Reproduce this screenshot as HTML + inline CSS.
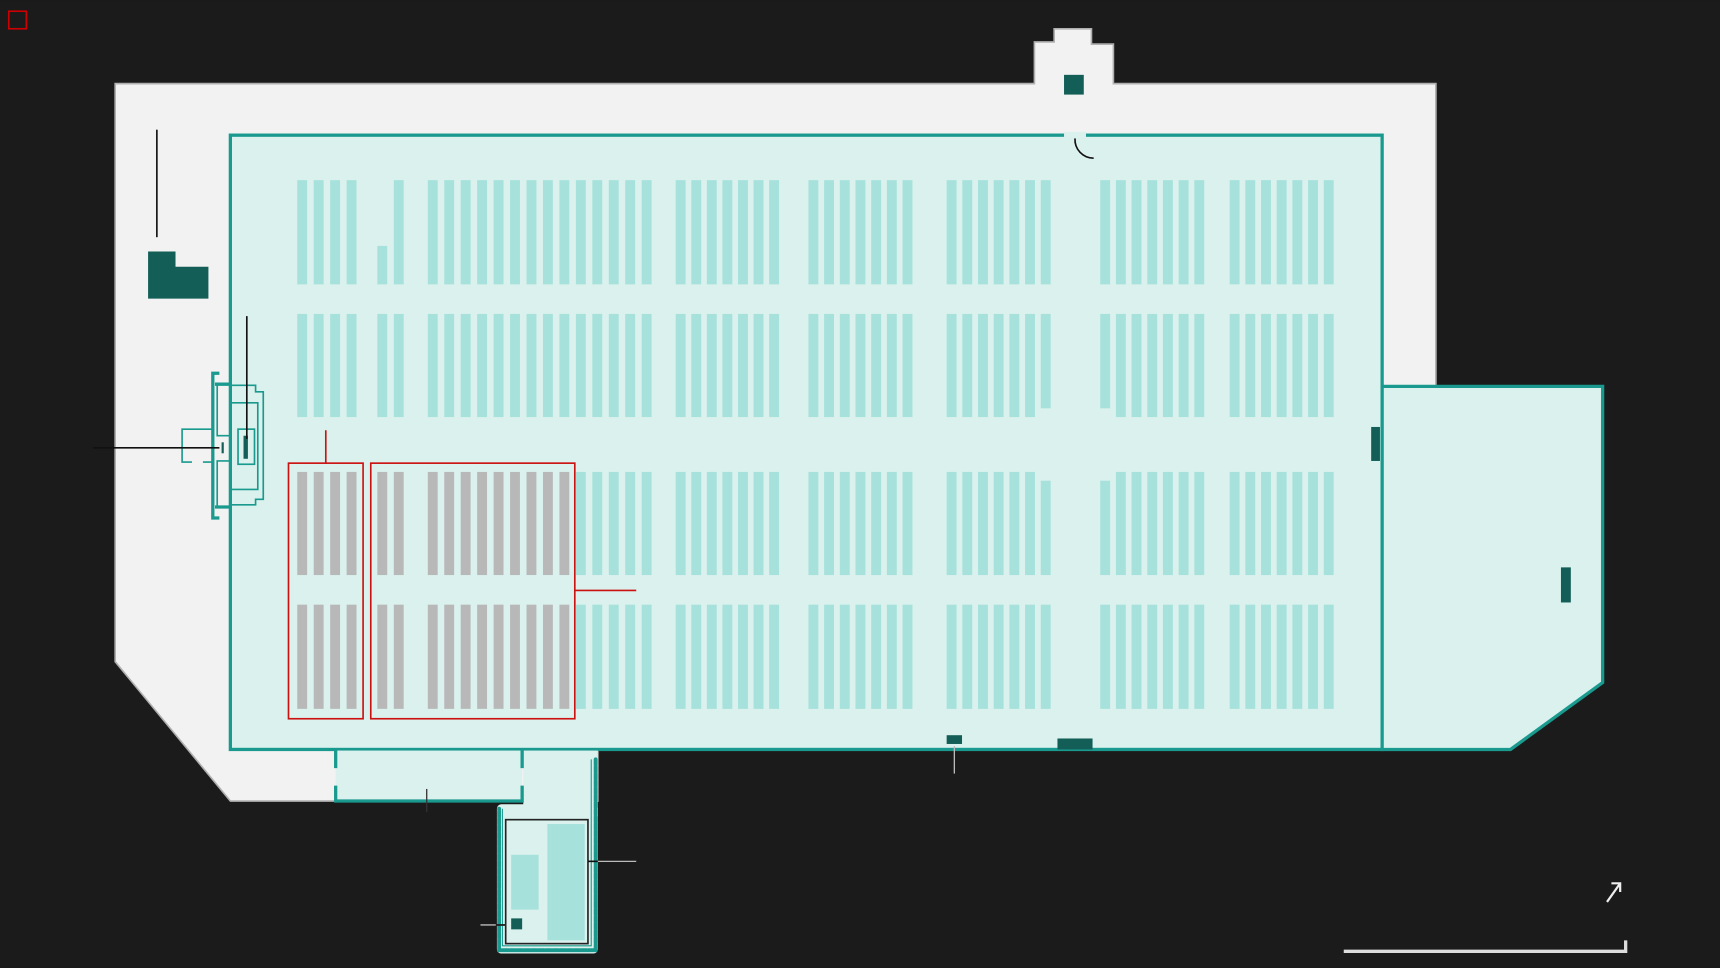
<!DOCTYPE html>
<html><head><meta charset="utf-8"><style>html,body{margin:0;padding:0;background:#1b1b1b;overflow:hidden}svg{display:block}</style></head>
<body>
<svg id="s" width="1720" height="968" viewBox="0 0 1568 882" xmlns="http://www.w3.org/2000/svg">
<rect width="1568" height="882" fill="#1b1b1b"/>
<rect x="8" y="10" width="16" height="16" fill="none" stroke="#cc0000" stroke-width="1.5"/>
<polygon points="105,76 943,76 943,38 961,38 961,26 995,26 995,40 1015,40 1015,76 1309,76 1309,352 1260,352 1260,683 545,683 545,730 210,730 105,603" fill="#f2f2f2" stroke="#b0b0b0" stroke-width="1.5"/>
<rect x="970" y="68" width="18" height="18" fill="#135e57"/>
<polygon points="135,229 160,229 160,243 190,243 190,272 135,272" fill="#135e57"/>
<line x1="143" y1="118" x2="143" y2="216" stroke="#111" stroke-width="1.5"/>
<rect x="210" y="123" width="1050" height="560" fill="#daf1ed" stroke="#1a9a8e" stroke-width="3"/>
<rect x="970" y="120" width="20" height="6" fill="#daf1ed"/>
<path d="M980,126 A17,17 0 0 0 997,144" fill="none" stroke="#111" stroke-width="1.5"/>
<polygon points="1260,352 1461,352 1461,622 1377,683 1260,683" fill="#daf1ed" stroke="#1a9a8e" stroke-width="3"/>
<rect x="1250" y="389" width="8" height="31" fill="#135e57"/>
<rect x="1423" y="517" width="9" height="32" fill="#135e57"/>
<rect x="863" y="670" width="14" height="8" fill="#135e57"/>
<rect x="964" y="673" width="32" height="10" fill="#135e57"/>
<line x1="870" y1="680" x2="870" y2="705" stroke="#bbb" stroke-width="1.2"/>
<!-- corridor -->
<rect x="477" y="684" width="68" height="60" fill="#daf1ed"/>
<rect x="453" y="733" width="92" height="136" rx="4" fill="#daf1ed"/>
<path d="M543,692 V866 H455 V737" fill="none" stroke="#1a9a8e" stroke-width="3.5" stroke-dasharray="5 1.5" stroke-linecap="round"/>
<path d="M539,692 V862 H458 V737" fill="none" stroke="#1a9a8e" stroke-width="1"/>
<!-- small room -->
<rect x="306" y="684" width="170" height="46" fill="#daf1ed"/>
<path d="M306,683 V700 M306,716 V730 H476 V716 M476,700 V683" fill="none" stroke="#1a9a8e" stroke-width="3"/>
<line x1="389" y1="719" x2="389" y2="740" stroke="#333" stroke-width="1.2"/>
<rect x="461" y="747" width="75" height="113" fill="#daf1ed" stroke="#222" stroke-width="1.5"/>
<rect x="499" y="751" width="34" height="106" fill="#a6e1db"/>
<rect x="466" y="779" width="25" height="50" fill="#a6e1db"/>
<rect x="466" y="837" width="10" height="10" fill="#135e57"/>
<line x1="536" y1="785" x2="580" y2="785" stroke="#bbb" stroke-width="1.2"/>
<line x1="536" y1="785" x2="545" y2="785" stroke="#111" stroke-width="1.5"/>
<line x1="438" y1="843" x2="461" y2="843" stroke="#bbb" stroke-width="1.2"/>
<line x1="452" y1="843" x2="461" y2="843" stroke="#111" stroke-width="1.5"/>
<g fill="none" stroke="#1a9a8e">
<path d="M200,340 H194 V472 H200" stroke-width="3"/>
<path d="M196,350 H210 M196,462 H210" stroke-width="3"/>
<path d="M210,351 H233 V357 H240 V455 H233 V460 H210" stroke-width="1.5"/>
<path d="M210,367 H235 V446 H210" stroke-width="1.5"/>
<rect x="217" y="391" width="15" height="32" stroke-width="1.5"/>
<path d="M198,350 V397 H209 M198,461 V420 H209" stroke-width="1.5"/>
<path d="M194,391 H166 V421 H175 M185,421 H194" stroke-width="1.5"/>
</g>
<rect x="222" y="397" width="4" height="21" fill="#135e57"/>
<rect x="202" y="403" width="2" height="10" fill="#135e57"/>
<line x1="225" y1="288" x2="225" y2="400" stroke="#111" stroke-width="1.5"/>
<line x1="85" y1="408" x2="200" y2="408" stroke="#111" stroke-width="1.5"/>
<g id="shelves"></g>
<rect x="263" y="422" width="68" height="233" fill="none" stroke="#cc1111" stroke-width="1.5"/>
<rect x="338" y="422" width="186" height="233" fill="none" stroke="#cc1111" stroke-width="1.5"/>
<line x1="297" y1="392" x2="297" y2="422" stroke="#cc1111" stroke-width="1.5"/>
<line x1="524" y1="538" x2="580" y2="538" stroke="#cc1111" stroke-width="1.5"/>
<path d="M1465,822 L1477,805 M1469,805 H1477 V813" fill="none" stroke="#eee" stroke-width="2"/>
<path d="M1225,867 H1482 V857" fill="none" stroke="#ddd" stroke-width="3"/>
</svg>
<script>
var g=document.getElementById('shelves'),ns='http://www.w3.org/2000/svg';
var rows=[[164,259],[286,380],[430,524],[551,646]];
var groups=[[271,15,4],[344,15,2],[390,15,14],[616,14.2,7],[737,14.3,7],[863,14.3,7],[1003,14.3,7],[1121,14.3,7]];
function r(x,y1,y2,c){var e=document.createElementNS(ns,'rect');e.setAttribute('x',x);e.setAttribute('y',y1);e.setAttribute('width',9);e.setAttribute('height',y2-y1);e.setAttribute('fill',c);g.appendChild(e);}
rows.forEach(function(rw,ri){groups.forEach(function(gr,gi){for(var i=0;i<gr[2];i++){var x=gr[0]+i*gr[1],y1=rw[0],y2=rw[1];
if(ri==0&&gi==1&&i==0)y1=224;
if(ri==1&&((gi==5&&i==6)||(gi==6&&i==0)))y2=372;
if(ri==2&&((gi==5&&i==6)||(gi==6&&i==0)))y1=438;
var c='#a6e1db';if(ri>=2&&(gi<2||(gi==2&&i<9)))c='#b8b8b8';
r(x,y1,y2,c);}});});
</script>
</body></html>
